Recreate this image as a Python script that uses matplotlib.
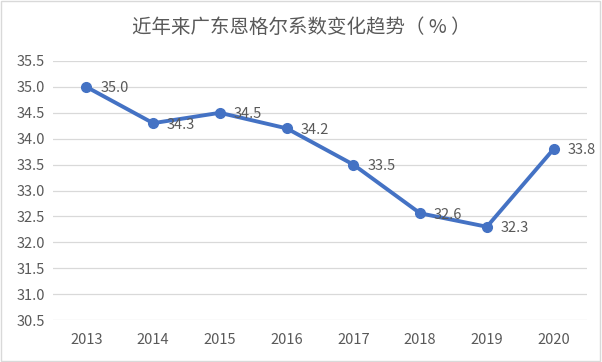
import matplotlib.pyplot as plt
import numpy as np

plt.rcParams['font.family'] = ['Noto Sans CJK SC', 'DejaVu Sans']

years = ['2013', '2014', '2015', '2016', '2017', '2018', '2019', '2020']
values = [35.0, 34.3, 34.5, 34.2, 33.5, 32.56, 32.3, 33.8]
labels = ['35.0', '34.3', '34.5', '34.2', '33.5', '32.6', '32.3', '33.8']

text_color = '#595959'
line_color = '#4472C4'

fig = plt.figure(figsize=(6.02, 3.62), dpi=100)
ax = fig.add_axes([53 / 602, 1 - 320 / 362, (587 - 53) / 602, (320 - 61) / 362])

x = np.arange(len(years))
ax.plot(x, values, color=line_color, linewidth=2.8, marker='o', markersize=7, zorder=3)

for xi, v, lab in zip(x, values, labels):
    ax.annotate(lab, (xi, v), xytext=(10, -1), textcoords='offset points',
                ha='left', va='center', fontsize=10.5, color=text_color, zorder=4)

ax.set_xlim(-0.5, len(years) - 0.5)
ax.set_ylim(30.5, 35.5)
ax.set_yticks(np.arange(30.5, 35.51, 0.5))
ax.set_yticklabels([f'{t:.1f}' for t in np.arange(30.5, 35.51, 0.5)])
ax.set_xticks(x)
ax.set_xticklabels(years)
ax.tick_params(axis='both', length=0, labelsize=10.5, colors=text_color)
ax.tick_params(axis='x', pad=9)
ax.tick_params(axis='y', pad=6)
ax.grid(axis='y', color='#D9D9D9', linewidth=0.9)
ax.set_axisbelow(True)
for s in ax.spines.values():
    s.set_visible(False)

fig.text(0.5, 1 - 27 / 362, '近年来广东恩格尔系数变化趋势（ % ）', ha='center', va='center',
         fontsize=14, color=text_color)

border = plt.Rectangle((0.002, 0.003), 0.995, 0.993, transform=fig.transFigure,
                       fill=False, edgecolor='#D9D9D9', linewidth=1)
fig.patches.append(border)

fig.savefig('out.png', dpi=100)
